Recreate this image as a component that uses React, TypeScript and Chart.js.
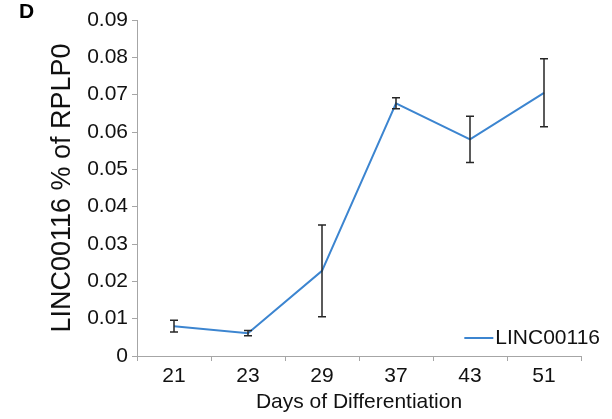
import React, { useEffect, useRef } from "react";
import { Chart, registerables } from "chart.js";

Chart.register(...registerables);

const days = ["21", "23", "29", "37", "43", "51"];
const linc00116 = [0.008, 0.0061, 0.0228, 0.0677, 0.058, 0.0705];
const errors = [0.0016, 0.0007, 0.0123, 0.0015, 0.0062, 0.0091];
const yTicks = [0, 0.01, 0.02, 0.03, 0.04, 0.05, 0.06, 0.07, 0.08, 0.09];
const seriesLabel = "LINC00116";
const xTitle = "Days of Differentiation";
const yTitle = "LINC00116 % of RPLP0";

const FONT = "'Liberation Sans', Arial, sans-serif";
const LINE_COLOR = "#3C85D0";
const AXIS_COLOR = "#A6A6A6";

const errorBarPlugin = {
  id: "errorBars",
  afterDatasetsDraw(chart: any) {
    const ctx = chart.ctx;
    const x = chart.scales.x;
    const y = chart.scales.y;
    ctx.save();
    ctx.strokeStyle = "#262626";
    ctx.lineWidth = 1.5;
    linc00116.forEach((v, i) => {
      const px = x.getPixelForValue(i);
      const top = y.getPixelForValue(v + errors[i]);
      const bot = y.getPixelForValue(v - errors[i]);
      ctx.beginPath();
      ctx.moveTo(px, top);
      ctx.lineTo(px, bot);
      ctx.moveTo(px - 4, top);
      ctx.lineTo(px + 4, top);
      ctx.moveTo(px - 4, bot);
      ctx.lineTo(px + 4, bot);
      ctx.stroke();
    });
    ctx.restore();
  },
};

const legendPlugin = {
  id: "insideLegend",
  afterDraw(chart: any) {
    const ctx = chart.ctx;
    const area = chart.chartArea;
    const cy = area.bottom - 18;
    const textRight = area.right + 19;
    ctx.save();
    ctx.font = `21px ${FONT}`;
    ctx.textBaseline = "middle";
    ctx.textAlign = "right";
    ctx.fillStyle = "#111";
    const w = ctx.measureText(seriesLabel).width;
    ctx.fillText(seriesLabel, textRight, cy);
    const lineEnd = textRight - w - 2;
    ctx.strokeStyle = LINE_COLOR;
    ctx.lineWidth = 2;
    ctx.beginPath();
    ctx.moveTo(lineEnd - 29, cy);
    ctx.lineTo(lineEnd, cy);
    ctx.stroke();
    ctx.restore();
  },
};

export default function App() {
  const ref = useRef<HTMLCanvasElement | null>(null);
  useEffect(() => {
    if (!ref.current) return;
    const chart = new Chart(ref.current, {
      type: "line",
      data: {
        labels: days,
        datasets: [
          {
            label: seriesLabel,
            data: linc00116,
            borderColor: LINE_COLOR,
            backgroundColor: LINE_COLOR,
            borderWidth: 2,
            pointRadius: 0,
            tension: 0,
            fill: false,
          },
        ],
      },
      options: {
        animation: false,
        responsive: false,
        maintainAspectRatio: false,
        layout: { padding: { top: 20, right: 31, bottom: 0, left: 0 } },
        plugins: {
          legend: { display: false },
          tooltip: { enabled: false },
        },
        scales: {
          x: {
            type: "category",
            offset: true,
            grid: {
              display: true,
              drawOnChartArea: false,
              drawTicks: true,
              tickLength: 5,
              color: AXIS_COLOR,
              offset: true,
            },
            border: { display: true, color: AXIS_COLOR, width: 1 },
            ticks: {
              color: "#111",
              font: { family: FONT, size: 21 },
              padding: 3,
              maxRotation: 0,
            },
            title: {
              display: true,
              text: xTitle,
              color: "#111",
              font: { family: FONT, size: 21 },
              padding: { top: 0, bottom: 4 },
            },
            afterFit(scale: any) {
              scale.height = 63;
            },
          },
          y: {
            type: "linear",
            min: 0,
            max: 0.09,
            grid: {
              display: true,
              drawOnChartArea: false,
              drawTicks: true,
              tickLength: 5,
              color: AXIS_COLOR,
            },
            border: { display: true, color: AXIS_COLOR, width: 1 },
            afterBuildTicks(scale: any) {
              scale.ticks = yTicks.map((v) => ({ value: v }));
            },
            ticks: {
              color: "#111",
              font: { family: FONT, size: 21 },
              padding: 4,
              callback: (v: any) => (Number(v) === 0 ? "0" : Number(v).toFixed(2)),
            },
            title: {
              display: true,
              text: yTitle,
              color: "#111",
              font: { family: FONT, size: 27 },
              padding: { top: 46, bottom: 0 },
            },
            afterFit(scale: any) {
              scale.width = 137;
            },
          },
        },
      },
      plugins: [errorBarPlugin, legendPlugin],
    });
    return () => chart.destroy();
  }, []);

  return (
    <div style={{ position: "fixed", left: 0, top: 0, width: 612, height: 419, background: "#fff" }}>
      <canvas ref={ref} width={612} height={419} style={{ display: "block" }} />
      <div
        style={{
          position: "absolute",
          left: 19,
          top: 0,
          fontFamily: FONT,
          fontWeight: "bold",
          fontSize: 21,
          lineHeight: "21px",
          color: "#000",
        }}
      >
        D
      </div>
    </div>
  );
}
